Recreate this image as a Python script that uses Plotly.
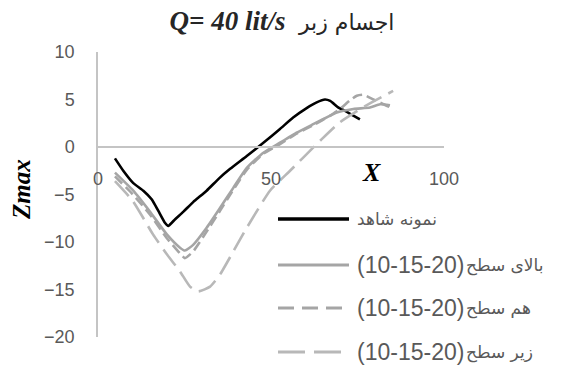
import plotly.graph_objects as go

# Zmax profiles along X for Q = 40 lit/s (rough objects)
x_control = [4.9, 7.3, 10.2, 13.1, 15.5, 17.4, 19.4, 20.3, 22.3, 24.7, 27.5, 31.4, 35.0, 38.2,
             43.0, 47.8, 52.6, 56.4, 60.3, 63.2, 65.6, 67.1, 69.5, 71.4, 73.8, 75.7]
z_control = [-1.2, -2.5, -3.8, -4.6, -5.5, -6.7, -8.0, -8.3, -7.6, -6.8, -5.8, -4.6, -3.3, -2.3,
             -0.95, 0.45, 1.9, 3.1, 4.1, 4.7, 5.0, 4.85, 4.15, 3.8, 3.3, 2.9]

x_above = [4.9, 10.2, 15.0, 19.9, 23.7, 25.1, 27.5, 31.4, 35.3, 39.1, 43.0, 47.8, 52.6, 57.4,
           62.2, 67.1, 68.8, 73.8, 78.6, 81.5, 84.4]
z_above = [-2.7, -4.6, -6.8, -9.2, -10.6, -10.9, -10.3, -8.5, -6.4, -4.3, -2.2, -0.6, 0.45, 1.5,
           2.4, 3.3, 3.6, 4.0, 4.15, 4.5, 4.4]

x_level = [4.9, 10.1, 15.0, 19.9, 23.7, 25.1, 27.5, 31.4, 35.3, 39.1, 43.0, 47.8, 52.6, 57.4,
           62.2, 67.1, 69.9, 72.8, 74.8, 76.7, 79.6, 82.5, 84.4]
z_level = [-3.1, -5.0, -7.1, -9.6, -11.2, -11.7, -11.0, -8.9, -6.7, -4.5, -2.4, -0.7, 0.3, 1.4,
           2.3, 3.3, 4.0, 4.9, 5.4, 5.5, 5.0, 4.5, 4.2]

x_below = [4.9, 10.1, 15.9, 19.9, 23.7, 26.6, 29.0, 32.4, 35.3, 39.1, 43.0, 49.7, 55.5, 64.6,
           69.9, 77.2, 85.3]
z_below = [-3.6, -5.7, -9.2, -11.3, -13.1, -14.7, -15.2, -14.7, -13.4, -11.0, -8.5, -4.6, -2.5,
           0.8, 2.6, 4.3, 5.9]

series_names = ["نمونه شاهد", "بالای سطح(10-15-20)", "هم سطح(10-15-20)", "زیر سطح(10-15-20)"]
series_labels_fa = ["نمونه شاهد", "بالای سطح", "هم سطح", "زیر سطح"]
series_labels_num = ["", "(10-15-20)", "(10-15-20)", "(10-15-20)"]
series_colors = ["#000000", "#a5a5a5", "#a5a5a5", "#b8b8b8"]
series_dash = ["solid", "solid", "10px,5px", "20px,8px"]
legend_dash = [None, None, "16px,8px", "27px,9px"]

x_ticks = [0, 50, 100]
y_ticks = [-20, -15, -10, -5, 0, 5, 10]

xs = [x_control, x_above, x_level, x_below]
zs = [z_control, z_above, z_level, z_below]

fig = go.Figure()
for x, z, name, color, dash in zip(xs, zs, series_names, series_colors, series_dash):
    fig.add_trace(go.Scatter(
        x=x, y=z, name=name, mode="lines",
        line=dict(color=color, width=2.6, dash=dash, shape="spline", smoothing=0.5),
        showlegend=False,
    ))

W, H = 561, 365
ML, MR, MT, MB = 98, 117, 52, 28
pw, ph = W - ML - MR, H - MT - MB


def px_x(p):
    return (p - ML) / pw


def px_y(p):
    return (H - MB - p) / ph


# Legend drawn as line samples plus labels to the lower right;
# the numeric part and the Persian part are separate text items so the
# parentheses keep their left-to-right form.
NUM_SIZE = 23
num_width = NUM_SIZE * (2 * 0.333 + 6 * 0.556 + 2 * 0.333)
legend_rows = [219, 265, 308, 352]
text_x = 356
shapes = []
annotations = []
for row, fa, num, color, dash in zip(legend_rows, series_labels_fa, series_labels_num,
                                     series_colors, legend_dash):
    shapes.append(dict(
        type="line", xref="paper", yref="paper",
        x0=px_x(278), x1=px_x(349), y0=px_y(row), y1=px_y(row),
        line=dict(color=color, width=2.8 if color != "#000000" else 3.4, dash=dash),
    ))
    fa_x = text_x
    if num:
        annotations.append(dict(
            text=num, xref="paper", yref="paper", x=px_x(text_x), y=px_y(row),
            xanchor="left", yanchor="middle", showarrow=False, borderpad=0,
            font=dict(family="Liberation Sans", size=NUM_SIZE, color="#595959"),
        ))
        fa_x = text_x + num_width + 2
    annotations.append(dict(
        text=fa, xref="paper", yref="paper", x=px_x(fa_x), y=px_y(row),
        xanchor="left", yanchor="middle", showarrow=False, borderpad=0,
        font=dict(family="DejaVu Sans", size=17, color="#595959"),
    ))

annotations.append(dict(
    text="<b><i>Zmax</i></b>", xref="paper", yref="paper", x=px_x(21), y=px_y(190),
    xanchor="center", yanchor="middle", textangle=-90, showarrow=False,
    font=dict(family="Liberation Serif", size=25, color="#000000"),
))
annotations.append(dict(
    text="<b><i>X</i></b>", xref="paper", yref="paper", x=px_x(371), y=px_y(172),
    xanchor="center", yanchor="middle", showarrow=False,
    font=dict(family="Liberation Serif", size=26, color="#000000"),
))

fig.update_layout(
    width=W, height=H,
    margin=dict(l=ML, r=MR, t=MT, b=MB),
    paper_bgcolor="white", plot_bgcolor="white",
    title=dict(
        text="<b><i>Q= 40 lit/s</i></b>  <span style='font-family:DejaVu Sans;font-size:22px'>اجسام زبر</span>",
        xref="paper", x=px_x(282), xanchor="center",
        yref="container", y=1 - 21 / H, yanchor="middle",
        font=dict(family="Liberation Serif", size=27, color="#262626"),
    ),
    xaxis=dict(
        range=[0, 100], tickvals=x_ticks, anchor="free", position=2 / 3,
        showline=True, linecolor="#c4c4c4", linewidth=1.5,
        showgrid=False, zeroline=False,
        ticks="outside", ticklen=16, tickcolor="rgba(0,0,0,0)",
        tickfont=dict(family="Liberation Sans", size=18, color="#595959"),
    ),
    yaxis=dict(
        range=[-20, 10], tickvals=y_ticks,
        showline=True, linecolor="#c4c4c4", linewidth=1.5,
        showgrid=False, zeroline=False,
        ticks="outside", ticklen=18, tickcolor="rgba(0,0,0,0)",
        tickfont=dict(family="Liberation Sans", size=18, color="#595959"),
    ),
    shapes=shapes,
    annotations=annotations,
)

fig.write_html("out.html")
